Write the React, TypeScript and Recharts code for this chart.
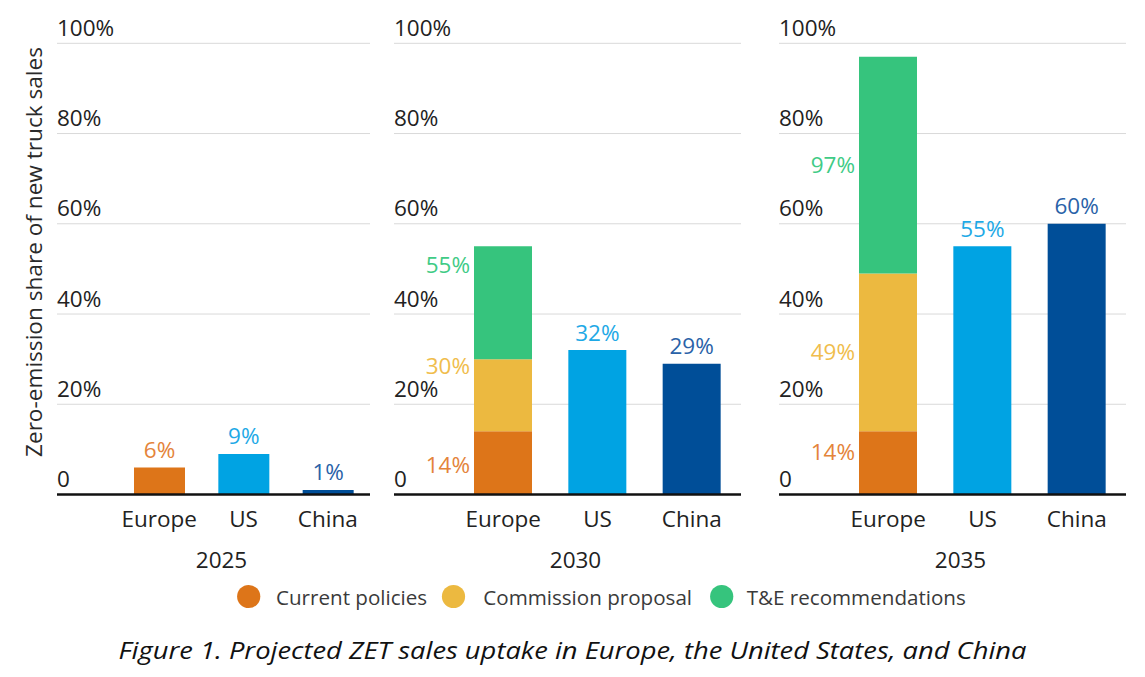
import React from 'react';
import { BarChart, Bar, XAxis, YAxis, CartesianGrid, LabelList } from 'recharts';

// ---------- data ----------
const years = ['2025', '2030', '2035'];
const regions = ['Europe', 'US', 'China'];
// Europe, cumulative shares (%)
const currentPolicies = [6, 14, 14];
const commissionProposal: (number | null)[] = [null, 30, 49];
const teRecommendations: (number | null)[] = [null, 55, 97];
const usShare = [9, 32, 55];
const chinaShare = [1, 29, 60];
const yTicks = [0, 20, 40, 60, 80, 100];
const legendLabels = ['Current policies', 'Commission proposal', 'T&E recommendations'];
const yTitle = 'Zero-emission share of new truck sales';
const caption = 'Figure 1. Projected ZET sales uptake in Europe, the United States, and China';

// ---------- styles / layout ----------
const FONT = "'Open Sans', 'Noto Sans', sans-serif";
const C = {
  current: '#DD7519',
  commission: '#ECB940',
  te: '#36C47D',
  us: '#00A3E3',
  china: '#004E98',
};
const LC = {
  current: '#E4843A',
  commission: '#F0BD4C',
  te: '#3FCB86',
  us: '#1EA9E6',
  china: '#2A62A8',
};
const LEGEND_COLORS = [C.current, C.commission, C.te];
const CHART_H = 580;
const XAXIS_H = 80;
const PLOT_TOP = 43.3;
const PLOT_BOTTOM = CHART_H - 5.5 - XAXIS_H; // 494.5
const FS = 22.5;
const YAXIS_W = 2;

const PANELS = [
  { left: 0, width: 380, mLeft: 57, mRight: 10, padL: 60, padR: 0, barSize: 51 },
  { left: 380, width: 380, mLeft: 14, mRight: 19, padL: 62, padR: 2, barSize: 58 },
  { left: 760, width: 385, mLeft: 19, mRight: 19, padL: 62, padR: 2, barSize: 58 },
];
// fine vertical nudges for side labels (px)
const SIDE_NUDGE = [
  { current: 0, commission: 0, te: 0 },
  { current: 2, commission: -29, te: -38 },
  { current: -11, commission: 0, te: 0 },
];

function buildRows(i: number) {
  const cp = currentPolicies[i];
  const cm = commissionProposal[i];
  const te = teRecommendations[i];
  return regions.map((r) => {
    if (r === 'Europe') {
      return {
        region: r,
        current: cp,
        commission: cm != null ? cm - cp : 0,
        te: te != null && cm != null ? te - cm : 0,
        us: 0,
        china: 0,
        currentLabel: cp,
        commissionLabel: cm,
        teLabel: te,
        usLabel: null,
        chinaLabel: null,
      };
    }
    if (r === 'US') {
      return {
        region: r, current: 0, commission: 0, te: 0, us: usShare[i], china: 0,
        currentLabel: null, commissionLabel: null, teLabel: null, usLabel: usShare[i], chinaLabel: null,
      };
    }
    return {
      region: r, current: 0, commission: 0, te: 0, us: 0, china: chinaShare[i],
      currentLabel: null, commissionLabel: null, teLabel: null, usLabel: null, chinaLabel: chinaShare[i],
    };
  });
}

function getBox(props: any) {
  const vb = props.viewBox && props.viewBox.width != null ? props.viewBox : props;
  let { x, y, width, height } = vb;
  if (height < 0) {
    y = y + height;
    height = -height;
  }
  return { x: Number(x), y: Number(y), width: Number(width), height: Number(height) };
}

function topLabel(color: string) {
  return (props: any) => {
    const v = props.value;
    if (v == null || v === '') return null;
    const b = getBox(props);
    return (
      <text x={b.x + b.width / 2} y={b.y - 9.5} textAnchor="middle" fill={color} fontSize={FS} fontFamily={FONT}>
        {`${v}%`}
      </text>
    );
  };
}

function sideLabel(color: string, nudge: number) {
  return (props: any) => {
    const v = props.value;
    if (v == null || v === '') return null;
    const b = getBox(props);
    return (
      <text x={b.x - 4} y={b.y + b.height / 2 + nudge + 7.9} textAnchor="end" fill={color} fontSize={FS} fontFamily={FONT}>
        {`${v}%`}
      </text>
    );
  };
}

function Panel({ idx }: { idx: number }) {
  const p = PANELS[idx];
  const rows = buildRows(idx);
  const stacked = commissionProposal[idx] != null;
  const n = SIDE_NUDGE[idx];
  const yTick = (props: any) => {
    const v = props.payload.value;
    return (
      <text x={p.mLeft} y={Number(props.y) - 7.5} textAnchor="start" fill="#222" fontSize={FS} fontFamily={FONT}>
        {v === 0 ? '0' : `${v}%`}
      </text>
    );
  };
  const xTick = (props: any) => (
    <text x={props.x} y={PLOT_BOTTOM + 32.2} textAnchor="middle" fill="#222" fontSize={FS} fontFamily={FONT}>
      {props.payload.value}
    </text>
  );
  return (
    <div style={{ position: 'absolute', left: p.left, top: 0, width: p.width, height: CHART_H }}>
      <BarChart
        width={p.width}
        height={CHART_H}
        data={rows}
        margin={{ top: PLOT_TOP, left: p.mLeft - YAXIS_W, right: p.mRight, bottom: 5.5 }}
        barSize={p.barSize}
      >
        <CartesianGrid vertical={false} stroke="#d9d9d9" strokeWidth={1} />
        <YAxis
          width={YAXIS_W}
          domain={[0, 100]}
          ticks={yTicks}
          interval={0}
          axisLine={false}
          tickLine={false}
          tick={yTick}
        />
        <XAxis
          dataKey="region"
          height={XAXIS_H}
          padding={{ left: p.padL, right: p.padR }}
          axisLine={{ stroke: '#111', strokeWidth: 2.5 }}
          tickLine={false}
          tick={xTick}
          interval={0}
        />
        <Bar dataKey="current" stackId="a" fill={C.current} isAnimationActive={false}>
          <LabelList dataKey="currentLabel" content={stacked ? sideLabel(LC.current, n.current) : topLabel(LC.current)} />
        </Bar>
        <Bar dataKey="commission" stackId="a" fill={C.commission} isAnimationActive={false}>
          <LabelList dataKey="commissionLabel" content={sideLabel(LC.commission, n.commission)} />
        </Bar>
        <Bar dataKey="te" stackId="a" fill={C.te} isAnimationActive={false}>
          <LabelList dataKey="teLabel" content={sideLabel(LC.te, n.te)} />
        </Bar>
        <Bar dataKey="us" stackId="a" fill={C.us} isAnimationActive={false}>
          <LabelList dataKey="usLabel" content={topLabel(LC.us)} />
        </Bar>
        <Bar dataKey="china" stackId="a" fill={C.china} isAnimationActive={false}>
          <LabelList dataKey="chinaLabel" content={topLabel(LC.china)} />
        </Bar>
      </BarChart>
    </div>
  );
}

const LEGEND_ITEMS = [
  { cx: 248.7, tx: 276 },
  { cx: 453.5, tx: 483.3 },
  { cx: 721.7, tx: 746.7 },
];

export default function App() {
  return (
    <div style={{ position: 'absolute', left: 0, top: 0, width: 1145, height: 677, background: '#fff', overflow: 'hidden' }}>
      {years.map((_, i) => (
        <Panel key={i} idx={i} />
      ))}
      <svg width={1145} height={677} style={{ position: 'absolute', left: 0, top: 0, pointerEvents: 'none' }}>
        <text
          transform="translate(41.5, 252) rotate(-90)"
          textAnchor="middle"
          fill="#2a2a2a"
          fontSize={22.3}
          fontFamily={FONT}
          textLength={410}
          lengthAdjust="spacingAndGlyphs"
        >
          {yTitle}
        </text>
        {years.map((y, i) => {
          const p = PANELS[i];
          const plotW = p.width - p.mLeft - p.mRight;
          return (
            <text
              key={y}
              x={p.left + p.mLeft + plotW / 2 + 8}
              y={567.8}
              textAnchor="middle"
              fill="#222"
              fontSize={FS}
              fontFamily={FONT}
            >
              {y}
            </text>
          );
        })}
        {legendLabels.map((l, i) => (
          <g key={l}>
            <circle cx={LEGEND_ITEMS[i].cx} cy={596.5} r={11.6} fill={LEGEND_COLORS[i]} />
            <text x={LEGEND_ITEMS[i].tx} y={605} fill="#3a3a3a" fontSize={20.6} fontFamily={FONT}>
              {l}
            </text>
          </g>
        ))}
        <text
          x={572.5}
          y={659.3}
          textAnchor="middle"
          fill="#111"
          fontSize={23.5}
          fontStyle="italic"
          fontFamily={FONT}
          textLength={908}
          lengthAdjust="spacingAndGlyphs"
        >
          {caption}
        </text>
      </svg>
    </div>
  );
}
